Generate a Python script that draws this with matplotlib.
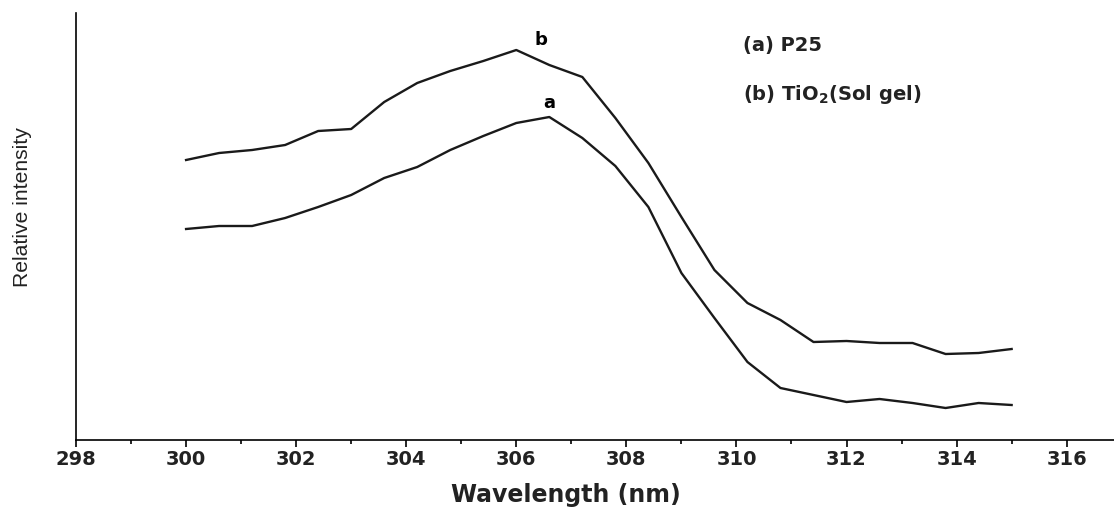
import matplotlib
matplotlib.use("Agg")
import matplotlib.pyplot as plt
from matplotlib.ticker import MultipleLocator

# wavelength (nm) and relative intensity (arbitrary units)
wavelength = [300.0, 300.6, 301.2, 301.8, 302.4, 303.0, 303.6, 304.2, 304.8,
              305.4, 306.0, 306.6, 307.2, 307.8, 308.4, 309.0, 309.6, 310.2,
              310.8, 311.4, 312.0, 312.6, 313.2, 313.8, 314.4, 315.0]
p25 = [211, 214, 214, 222, 233, 245, 262, 273, 290, 304, 317, 323, 302,
       274, 233, 167, 122, 78, 52, 45, 38, 41, 37, 32, 37, 35]
tio2_solgel = [280, 287, 290, 295, 309, 311, 338, 357, 369, 379, 390, 375,
               363, 322, 277, 223, 170, 137, 120, 98, 99, 97, 97, 86, 87, 91]

fig = plt.figure(figsize=(11.14, 5.07), dpi=100)
ax = fig.add_axes([76 / 1114, 1 - 440 / 507, 1038 / 1114, 427 / 507])

ax.plot(wavelength, p25, color="#1a1a1a", lw=1.7)
ax.plot(wavelength, tio2_solgel, color="#1a1a1a", lw=1.7)

ax.set_xlim(298, 316.86)
ax.set_ylim(0, 427)

# axes style
for s in ["top", "right"]:
    ax.spines[s].set_visible(False)
ax.spines["left"].set_linewidth(1.2)
ax.spines["bottom"].set_linewidth(1.2)
ax.set_yticks([])
ax.xaxis.set_major_locator(MultipleLocator(2))
ax.xaxis.set_minor_locator(MultipleLocator(1))
ax.tick_params(axis="x", which="major", length=5, width=1.2, pad=2,
               labelsize=14)
ax.tick_params(axis="x", which="minor", length=3, width=1.2)
for lab in ax.get_xticklabels():
    lab.set_fontweight("bold")
    lab.set_color("#222222")

ax.set_xlabel("Wavelength (nm)", fontsize=17, fontweight="bold", color="#222222")
ax.xaxis.set_label_coords(0.472, -0.129)
ax.xaxis.label.set_va("center")
ax.set_ylabel("Relative intensity", fontsize=15.2, family="Liberation Sans",
              color="#222222")
ax.yaxis.set_label_coords(-0.052, 0.546)
ax.yaxis.label.set_va("center")

# curve labels and legend text
ax.text(306.6, 337, "a", fontsize=13, fontweight="bold", ha="center", va="center")
ax.text(306.45, 400, "b", fontsize=13, fontweight="bold", ha="center", va="center")
ax.text(310.12, 394, "(a) P25", fontsize=14, fontweight="bold", va="center",
        color="#222222")
ax.text(310.12, 345, r"(b) TiO$_\mathbf{2}$(Sol gel)", fontsize=14,
        fontweight="bold", va="center", color="#222222")

plt.savefig("out.png", dpi=100)
